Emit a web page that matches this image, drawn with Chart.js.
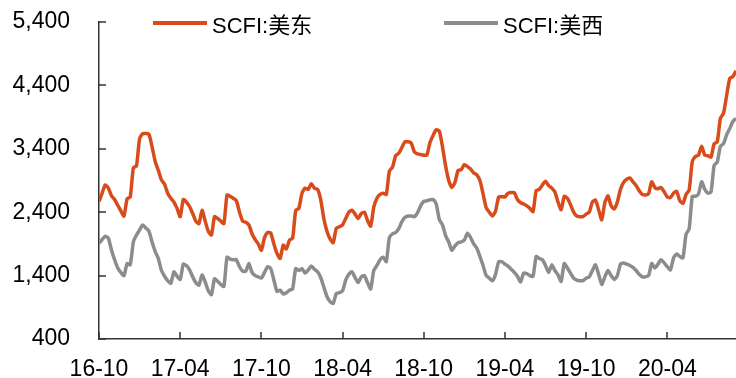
<!DOCTYPE html>
<html>
<head>
<meta charset="utf-8">
<script src="https://cdn.jsdelivr.net/npm/chart.js@4"></script>
<style>
  body { margin: 0; background: #fff; }
  #wrap { position: relative; width: 736px; height: 378px; }
  .legend-item { position: absolute; top: 11px; height: 24px; display: flex; align-items: center;
    font: 22px "Liberation Sans", "Noto Sans CJK SC", sans-serif; color: #000; white-space: nowrap; }
  .legend-line { display: inline-block; width: 54px; height: 4px; margin-right: 5px; }
</style>
</head>
<body>
<div id="wrap">
  <canvas id="myChart" width="736" height="378"></canvas>
  <div id="legend"></div>
</div>
<script>
// weekly SCFI, 16-10 .. 20-09
const tickLabels = ['16-10', '17-04', '17-10', '18-04', '18-10', '19-04', '19-10', '20-04'];
const weeksPerTick = 26;
const seriesNames = ['SCFI:美东', 'SCFI:美西'];
const seriesColors = ['#D84B1B', '#8C8C8C'];

const usEast = [
    2570, 2700, 2830, 2780, 2660, 2600, 2510, 2420, 2340, 2610,
    2640, 3100, 3130, 3560, 3640, 3640, 3630, 3430, 3200, 3060,
    2910, 2840, 2700, 2620, 2560, 2460, 2330, 2600, 2560, 2490,
    2380, 2260, 2220, 2430, 2260, 2100, 2040, 2330, 2300, 2260,
    2220, 2670, 2650, 2620, 2580, 2400, 2260, 2240, 2200, 2060,
    1970, 1900, 1800, 2000, 2080, 2070, 1900, 1750, 1670, 1880,
    1820, 1960, 1990, 2430, 2460, 2700, 2780, 2760, 2850, 2780,
    2760, 2600, 2300, 2100, 1980, 1920, 2150, 2170, 2200, 2300,
    2400, 2430, 2370, 2300, 2380, 2400, 2270, 2180, 2480, 2620,
    2680, 2700, 2680, 3050, 3110, 3290, 3330, 3420, 3510, 3510,
    3490, 3350, 3320, 3310, 3300, 3300, 3500, 3610, 3700, 3680,
    3430, 3130, 2900, 2790, 2870, 3060, 3070, 3150, 3120, 3080,
    3020, 2990, 2900, 2690, 2470, 2400, 2340, 2420, 2640, 2645,
    2640, 2700, 2710, 2710, 2600, 2550, 2530, 2500, 2460, 2410,
    2740, 2760, 2830, 2890, 2820, 2780, 2720, 2560, 2440, 2650,
    2620, 2520, 2400, 2340, 2330, 2330, 2370, 2400, 2560, 2590,
    2440, 2280, 2550, 2660, 2500, 2450, 2560, 2760, 2870, 2920,
    2940, 2880, 2820, 2740, 2680, 2670, 2690, 2880, 2790, 2770,
    2790, 2720, 2640, 2630, 2700, 2730, 2580, 2540, 2680, 2750,
    3200, 3280, 3300, 3440, 3300, 3290, 3270, 3480, 3510, 3880,
    3960, 4240, 4510, 4540, 4630
];

const usWest = [
    1910, 1970, 2020, 1990, 1800, 1650, 1520, 1450, 1400, 1590,
    1570, 1930, 2040, 2120, 2200, 2150, 2100, 1930, 1780, 1670,
    1480, 1390, 1320, 1280, 1460, 1390, 1340, 1580, 1560, 1490,
    1380, 1290, 1250, 1410, 1300, 1160, 1100, 1350, 1310, 1260,
    1230, 1690, 1660, 1650, 1650, 1540, 1470, 1470, 1590, 1450,
    1400, 1380, 1360, 1450, 1540, 1510, 1330, 1150, 1170, 1110,
    1130, 1170, 1190, 1510, 1480, 1510, 1440, 1490, 1550, 1500,
    1460, 1370, 1220, 1070, 990, 960, 1120, 1130, 1160, 1330,
    1420, 1460, 1370, 1290, 1380, 1400, 1290, 1190, 1480, 1560,
    1650, 1690, 1620, 2000, 2060, 2080, 2140, 2250, 2320, 2340,
    2340, 2330, 2390, 2500, 2570, 2580, 2595, 2600, 2530, 2280,
    2200, 2030, 1930, 1800, 1870, 1920, 1930, 1960, 2070, 2000,
    1900, 1830, 1700, 1560, 1400, 1360, 1320, 1420, 1620, 1620,
    1580, 1550, 1500, 1450, 1390, 1300, 1440, 1430, 1400, 1390,
    1700, 1670, 1650, 1560, 1450, 1570, 1480, 1410, 1310, 1590,
    1520, 1440, 1360, 1330, 1320, 1320, 1360, 1380, 1480, 1570,
    1420, 1260, 1380, 1480, 1400, 1340, 1400, 1580, 1600, 1580,
    1560, 1530, 1480, 1420, 1380, 1380, 1400, 1590, 1520, 1580,
    1650, 1600, 1540, 1490, 1680, 1740, 1700, 1680, 2050, 2140,
    2650, 2650, 2690, 2880, 2760, 2700, 2720, 3140, 3190, 3440,
    3480, 3620, 3720, 3830, 3880
];

function toPoints(values) {
    return values.map(function (v, i) { return { x: i, y: v }; });
}

// tick marks drawn inward, like the original
const innerTicks = {
    id: 'innerTicks',
    afterDraw: function (chart) {
        const ctx = chart.ctx;
        const xs = chart.scales.x;
        const ys = chart.scales.y;
        ctx.save();
        ctx.strokeStyle = '#333';
        ctx.lineWidth = 1.5;
        ctx.beginPath();
        xs.ticks.forEach(function (t, i) {
            const px = Math.round(xs.getPixelForTick(i));
            ctx.moveTo(px, xs.top);
            ctx.lineTo(px, xs.top - 7);
        });
        ys.ticks.forEach(function (t, i) {
            const py = Math.round(ys.getPixelForTick(i));
            ctx.moveTo(ys.right, py);
            ctx.lineTo(ys.right + 7, py);
        });
        ctx.stroke();
        ctx.restore();
    }
};

const tickFont = { family: '"Liberation Sans", Arial, sans-serif', size: 23 };

function noOverflow(scale) {
    scale.paddingTop = 0;
    scale.paddingBottom = 0;
    scale.paddingLeft = 0;
    scale.paddingRight = 0;
}

const ctx = document.getElementById('myChart').getContext('2d');
const chart = new Chart(ctx, {
    type: 'line',
    data: {
        datasets: [{
            label: seriesNames[0],
            data: toPoints(usEast),
            borderColor: seriesColors[0],
            backgroundColor: seriesColors[0],
            borderWidth: 3.5,
            pointRadius: 0,
            tension: 0.2
        }, {
            label: seriesNames[1],
            data: toPoints(usWest),
            borderColor: seriesColors[1],
            backgroundColor: seriesColors[1],
            borderWidth: 3.5,
            pointRadius: 0,
            tension: 0.2
        }]
    },
    options: {
        responsive: false,
        animation: false,
        layout: { padding: { top: 22, right: 0, left: 0, bottom: 0 } },
        plugins: {
            legend: { display: false },
            tooltip: { enabled: false }
        },
        scales: {
            x: {
                type: 'linear',
                min: 0,
                max: usEast.length - 1,
                grid: { display: true, drawOnChartArea: false, drawTicks: false },
                border: { display: true, color: '#333', width: 1.5 },
                ticks: {
                    stepSize: weeksPerTick,
                    includeBounds: false,
                    autoSkip: false,
                    maxRotation: 0,
                    padding: 17,
                    color: '#000',
                    font: tickFont,
                    callback: function (v) {
                        return tickLabels[Math.round(v / weeksPerTick)] || '';
                    }
                },
                afterFit: function (scale) { scale.height = 39; noOverflow(scale); }
            },
            y: {
                min: 400,
                max: 5400,
                grid: { display: true, drawOnChartArea: false, drawTicks: false },
                border: { display: true, color: '#333', width: 1.5 },
                ticks: {
                    stepSize: 1000,
                    padding: 29,
                    color: '#000',
                    font: tickFont,
                    callback: function (v) { return v.toLocaleString('en-US'); }
                },
                afterFit: function (scale) { scale.width = 99; noOverflow(scale); }
            }
        }
    },
    plugins: [innerTicks]
});

// html legend built from the datasets
const legendDiv = document.getElementById('legend');
const legendLeft = [153, 444];
chart.data.datasets.forEach(function (ds, i) {
    const item = document.createElement('div');
    item.className = 'legend-item';
    item.style.left = legendLeft[i] + 'px';
    const line = document.createElement('span');
    line.className = 'legend-line';
    line.style.background = ds.borderColor;
    const txt = document.createElement('span');
    txt.textContent = ds.label;
    item.appendChild(line);
    item.appendChild(txt);
    legendDiv.appendChild(item);
});
</script>
</body>
</html>
